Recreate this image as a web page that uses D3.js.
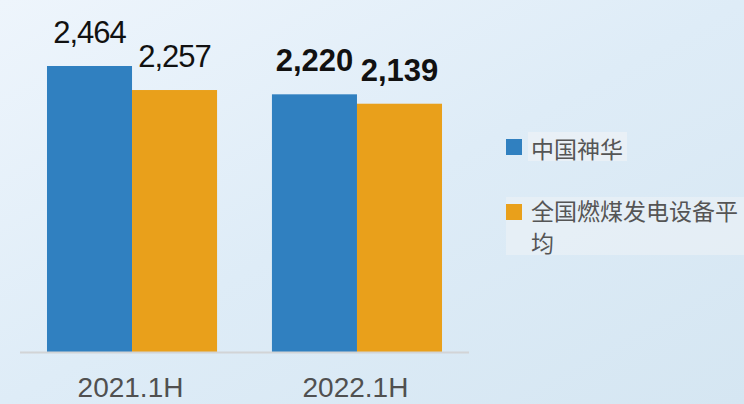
<!DOCTYPE html>
<html>
<head>
<meta charset="utf-8">
<script src="https://cdn.jsdelivr.net/npm/d3@7"></script>
<style>
  html, body { margin: 0; padding: 0; }
  body { width: 744px; height: 404px; overflow: hidden; }
  .val { font-family: "Liberation Sans", Arial, sans-serif; fill: #111; }
  .cat { font-family: "Liberation Sans", Arial, sans-serif; fill: #505050; }
  .leg { font-family: "Noto Sans CJK SC", sans-serif; fill: #555; font-size: 23px; }
</style>
</head>
<body>
<svg id="chart" width="744" height="404"></svg>
<script>
// grouped bars: 中国神华 vs 全国燃煤发电设备平均
const categories = ["2021.1H", "2022.1H"];
const seriesNames = ["中国神华", "全国燃煤发电设备平均"];
const shenhua = [2464, 2220];
const national = [2257, 2139];
const colors = ["#3080c0", "#e9a01b"];

(function() {
  const svg = d3.select("#chart");
  const width = +svg.attr("width");
  const height = +svg.attr("height");
  const baseY = 352;

  // background
  const defs = svg.append("defs");
  const grad = defs.append("linearGradient")
    .attr("id", "bg").attr("x1", "0").attr("y1", "0").attr("x2", "1").attr("y2", "1");
  grad.append("stop").attr("offset", "0").attr("stop-color", "#eef5fc");
  grad.append("stop").attr("offset", "0.5").attr("stop-color", "#deecf7");
  grad.append("stop").attr("offset", "1").attr("stop-color", "#d5e6f2");
  svg.append("rect").attr("width", width).attr("height", height).attr("fill", "url(#bg)");

  const x0 = d3.scaleBand()
    .domain(categories)
    .range([20, 469])
    .paddingInner(0.244)
    .paddingOuter(0.12);

  const x1 = d3.scaleBand()
    .domain(d3.range(seriesNames.length))
    .range([0, x0.bandwidth()]);

  const y = d3.scaleLinear()
    .domain([0, 2464])
    .range([baseY, 66]);

  const rows = categories.map((c, i) => ({
    cat: c,
    vals: [shenhua[i], national[i]],
    bold: i === categories.length - 1
  }));

  const groups = svg.selectAll("g.grp")
    .data(rows)
    .join("g")
    .attr("class", "grp")
    .attr("transform", d => `translate(${x0(d.cat)},0)`);

  groups.selectAll("rect")
    .data(d => d.vals.map((v, k) => ({ v, k })))
    .join("rect")
    .attr("x", d => x1(d.k))
    .attr("y", d => y(d.v))
    .attr("width", x1.bandwidth())
    .attr("height", d => baseY - y(d.v))
    .attr("fill", d => colors[d.k]);

  groups.selectAll("text.val")
    .data(d => d.vals.map((v, k) => ({ v, k, bold: d.bold })))
    .join("text")
    .attr("class", "val")
    .attr("x", d => x1(d.k) + x1.bandwidth() / 2)
    .attr("y", d => y(d.v) - 23)
    .attr("text-anchor", "middle")
    .attr("font-size", 31)
    .attr("font-weight", d => d.bold ? "bold" : "normal")
    .attr("letter-spacing", d => d.bold ? 0 : -1)
    .text(d => d3.format(",")(d.v));

  // baseline
  svg.append("line")
    .attr("x1", 20).attr("x2", 469)
    .attr("y1", baseY + 0.5).attr("y2", baseY + 0.5)
    .attr("stroke", "#d2d4d6")
    .attr("stroke-width", 2);

  // category labels
  svg.selectAll("text.cat")
    .data(categories)
    .join("text")
    .attr("class", "cat")
    .attr("x", d => x0(d) + x0.bandwidth() / 2 - 1.5)
    .attr("y", 397)
    .attr("text-anchor", "middle")
    .attr("font-size", 28)
    .text(d => d);

  // legend
  const leg = svg.append("g");
  leg.append("rect").attr("x", 528).attr("y", 132).attr("width", 99).attr("height", 29)
    .attr("fill", "#eef2f6").attr("opacity", 0.7);
  leg.append("rect").attr("x", 506).attr("y", 197).attr("width", 238).attr("height", 58)
    .attr("fill", "#eef2f6").attr("opacity", 0.55);

  leg.append("rect").attr("x", 506).attr("y", 139).attr("width", 16).attr("height", 16)
    .attr("fill", colors[0]);
  leg.append("text").attr("class", "leg")
    .attr("x", 531).attr("y", 148).attr("dominant-baseline", "central")
    .text(seriesNames[0]);

  leg.append("rect").attr("x", 506).attr("y", 204).attr("width", 16).attr("height", 16)
    .attr("fill", colors[1]);
  leg.append("text").attr("class", "leg")
    .attr("x", 531).attr("y", 210).attr("dominant-baseline", "central")
    .text(seriesNames[1].slice(0, 9));
  leg.append("text").attr("class", "leg")
    .attr("x", 531).attr("y", 242).attr("dominant-baseline", "central")
    .text(seriesNames[1].slice(9));
})();
</script>
</body>
</html>
